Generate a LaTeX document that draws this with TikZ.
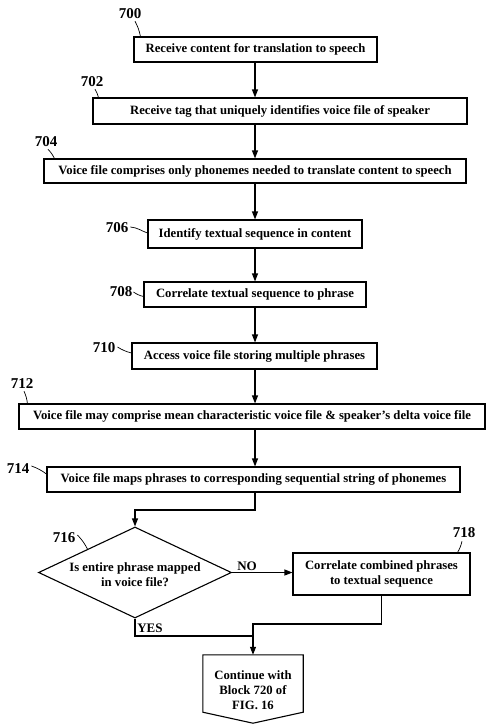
\documentclass[tikz,border=0pt]{standalone}
\usepackage{fontspec}
\setmainfont{Liberation Serif}
\usetikzlibrary{arrows.meta,shapes.geometric,calc}
\begin{document}
\begin{tikzpicture}[x=1pt,y=1pt,
  box/.style={draw, line width=1.1pt, inner sep=0pt, font=\fontsize{12.7}{15}\selectfont\bfseries, align=center},
  lbl/.style={font=\fontsize{15}{17}\selectfont\bfseries, inner sep=0pt},
  yn/.style={font=\fontsize{13}{15}\selectfont\bfseries, inner sep=0pt},
  flow/.style={line width=1.1pt, -{Triangle[length=8pt,width=6pt]}},
  lead/.style={line width=0.7pt},
  conn/.style={line width=1.1pt}]
\useasboundingbox (0,0) rectangle (487,-725);
\coordinate (ax) at (255,0);
\node[box, minimum width=243pt, minimum height=25pt] (b700) at (255.5,-49.5) {Receive content for translation to speech};
\node[box, minimum width=374pt, minimum height=26pt] (b702) at (280,-111) {Receive tag that uniquely identifies voice file of speaker};
\node[box, minimum width=422pt, minimum height=24pt] (b704) at (255,-171) {Voice file comprises only phonemes needed to translate content to speech};
\node[box, minimum width=214pt, minimum height=28pt] (b706) at (255,-234) {Identify textual sequence in content};
\node[box, minimum width=222pt, minimum height=25pt] (b708) at (255,-294.5) {Correlate textual sequence to phrase};
\node[box, minimum width=245pt, minimum height=26pt] (b710) at (254.5,-356) {Access voice file storing multiple phrases};
\node[box, minimum width=466pt, minimum height=25pt] (b712) at (252,-416.5) {Voice file may comprise mean characteristic voice file \& speaker’s delta voice file};
\node[box, minimum width=413pt, minimum height=25pt] (b714) at (253.5,-479.5) {Voice file maps phrases to corresponding sequential string of phonemes};
\node[draw, diamond, line width=1.1pt, minimum width=193pt, minimum height=91pt, inner sep=0pt] (d716) at (135,-572.5) {};
\node[box, draw=none] (t716) at (135,-575) {Is entire phrase mapped\\in voice file?};
\node[box, minimum width=177pt, minimum height=42pt] (b718) at (381.5,-574) {Correlate combined phrases\\to textual sequence};
\node[minimum width=100pt, minimum height=57pt, inner sep=0pt] (b720) at (253,-683.5) {};
\draw[line width=1.1pt] (b720.north west) -- (b720.north east) -- (b720.south east) -- ($(b720.south)+(0,-11)$) -- (b720.south west) -- cycle;
\node[box, draw=none] (t720) at (253,-690) {Continue with\\Block 720 of\\FIG. 16};
% labels
\node[lbl] (l700) at (130,-14) {700};
\node[lbl] (l702) at (92,-82) {702};
\node[lbl] (l704) at (46,-142) {704};
\node[lbl] (l706) at (117,-228) {706};
\node[lbl] (l708) at (121,-292) {708};
\node[lbl] (l710) at (104,-348) {710};
\node[lbl] (l712) at (22,-384) {712};
\node[lbl] (l714) at (18,-469) {714};
\node[lbl] (l716) at (64,-538) {716};
\node[lbl] (l718) at (464,-533) {718};
\node[yn] (no) at (247,-566) {NO};
\node[yn] (yes) at (150,-628) {YES};
% leaders
\draw[lead] ($(l700.south)+(5,-2)$) to[bend left=8] ($(b700.north west)+(7,0)$);
\draw[lead] ($(l702.south)+(3,-2)$) to[bend left=8] ($(b702.north west)+(6,0)$);
\draw[lead] ($(l704.south)+(2,-2)$) to[bend left=8] ($(b704.north west)+(11,0)$);
\draw[lead] ($(l706.east)+(2,1)$) to[out=-5,in=160] ($(b706.west)+(0,1)$);
\draw[lead] ($(l708.east)+(1,0)$) to[bend right=10] ($(b708.west)+(0,-2)$);
\draw[lead] ($(l710.east)+(2,1)$) to[bend right=8] ($(b710.west)+(0,3)$);
\draw[lead] ($(l712.south)+(2,-2)$) to[bend left=8] ($(b712.north west)+(9,0)$);
\draw[lead] ($(l714.east)+(2,3)$) to[bend left=8] ($(b714.west)+(0,5.5)$);
\draw[lead] ($(l716.east)+(2,3)$) to[bend left=8] ($(d716.west)!0.51!(d716.north)$);
\draw[lead] ($(l718.south)+(-2,-3)$) to[bend left=8] ($(b718.north east)+(-13,0)$);
% flow
\draw[flow] (b700.south -| ax) -- (b702.north -| ax);
\draw[flow] (b702.south -| ax) -- (b704.north -| ax);
\draw[flow] (b704.south -| ax) -- (b706.north -| ax);
\draw[flow] (b706.south -| ax) -- (b708.north -| ax);
\draw[flow] (b708.south -| ax) -- (b710.north -| ax);
\draw[flow] (b710.south -| ax) -- (b712.north -| ax);
\draw[flow] (b712.south -| ax) -- (b714.north -| ax);
\coordinate (y3) at (0,-510);
\draw[flow] (b714.south -| ax) -- (ax |- y3) -- (d716.north |- y3) -- (d716.north);
\draw[flow] (d716.east) -- (d716.east -| b718.west);
\coordinate (yy) at (0,-636);
\coordinate (y2) at (0,-624);
\draw[conn] (d716.south) |- (b720.north |- yy);
\draw[flow] (b718.south) |- (b720.north |- y2) -- (b720.north);
\end{tikzpicture}
\end{document}
